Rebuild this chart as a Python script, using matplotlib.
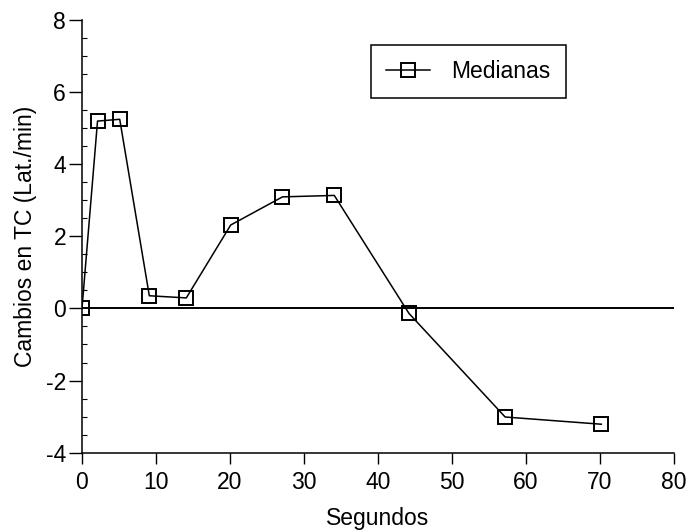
import matplotlib
matplotlib.use("Agg")
import matplotlib.pyplot as plt
from matplotlib.ticker import MultipleLocator

# Data
segundos = [0, 2.1, 5.1, 9.1, 14.1, 20.1, 27.1, 34.1, 44.2, 57.2, 70.2]
medianas = [0, 5.19, 5.24, 0.35, 0.29, 2.31, 3.09, 3.13, -0.14, -3.01, -3.21]

plt.rcParams['font.family'] = ['Liberation Sans', 'DejaVu Sans']
plt.rcParams['font.size'] = 16.5
plt.rcParams['axes.unicode_minus'] = False

fig = plt.figure(figsize=(6.89, 5.32), dpi=100)
ax = fig.add_axes([0.119, 0.149, 0.859, 0.814])

# Zero reference line
ax.axhline(0, color='black', linewidth=1.4, zorder=1)

# Medians series
ax.plot(segundos, medianas, color='black', linewidth=1.1, marker='s',
        markersize=10.5, markerfacecolor='none', markeredgecolor='black',
        markeredgewidth=1.4, label='Medianas', zorder=3)

ax.set_xlim(0, 80)
ax.set_ylim(-4, 8)
ax.xaxis.set_major_locator(MultipleLocator(10))
ax.yaxis.set_major_locator(MultipleLocator(2))
ax.yaxis.set_minor_locator(MultipleLocator(0.5))

# Only left and bottom spines
ax.spines['top'].set_visible(False)
ax.spines['right'].set_visible(False)
ax.spines['left'].set_linewidth(1.1)
ax.spines['bottom'].set_linewidth(1.1)

ax.tick_params(axis='y', which='major', direction='out', length=9.5, width=1, pad=2)
ax.tick_params(axis='y', which='minor', direction='in', length=3.5, width=0.8)
ax.tick_params(axis='x', which='major', direction='out', length=8, width=1, pad=5)

ax.set_xlabel('Segundos', labelpad=9.5)
ax.set_ylabel('Cambios en TC (Lat./min)', labelpad=6)

leg = ax.legend(loc='upper left', bbox_to_anchor=(0.489, 0.942), borderaxespad=0,
                fancybox=False, framealpha=1, edgecolor='black',
                handlelength=1.9, borderpad=0.65, handletextpad=0.95)
leg.get_frame().set_linewidth(1.1)

fig.savefig('out.png', dpi=100)
